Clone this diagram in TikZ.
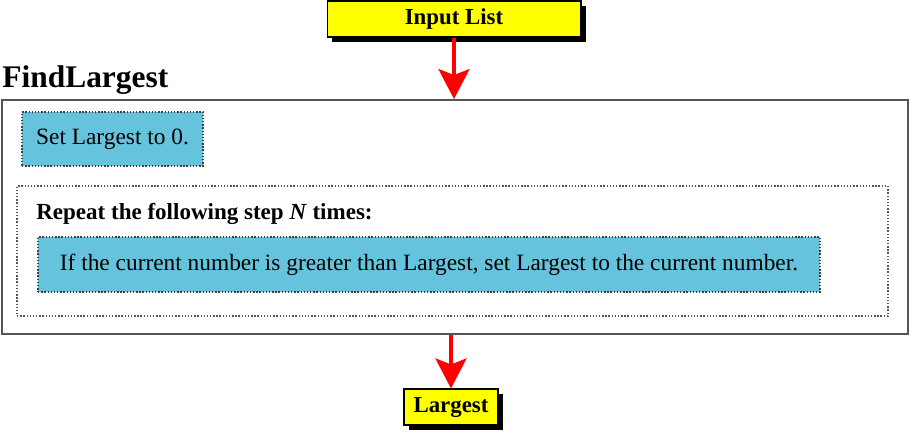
\documentclass[tikz,border=0pt]{standalone}
\usepackage{fontspec}
\setmainfont{Liberation Serif}
\usepackage{tikz}
\usetikzlibrary{positioning,arrows.meta,shadows}
\definecolor{camarillo}{HTML}{FFFF00}
\definecolor{ccian}{HTML}{66C3DD}
\definecolor{crojo}{HTML}{FF0000}
\definecolor{cgris}{HTML}{555555}
\tikzset{
  entrada/.style={rectangle, draw=black, line width=0.6pt, fill=camarillo,
    inner sep=0pt, text height=1.6ex, text depth=0.2ex,
    font=\bfseries\fontsize{13}{15}\selectfont,
    drop shadow={shadow xshift=0.1cm, shadow yshift=-0.1cm, opacity=1, fill=black}},
  paso/.style={rectangle, draw=black!75, densely dotted, line width=0.8pt,
    fill=ccian, inner sep=0pt, font=\fontsize{13.3}{16}\selectfont},
  bucle/.style={rectangle, draw=cgris, densely dotted, line width=0.8pt, inner sep=0pt},
  marco/.style={rectangle, draw=cgris, line width=1.1pt, inner sep=0pt},
  flecha/.style={-{Stealth[length=0.6cm, width=0.62cm, inset=0.12cm]}, line width=1.8pt, draw=crojo},
  titulo/.style={font=\bfseries\fontsize{17.9}{21}\selectfont, inner sep=0pt},
  etq/.style={font=\bfseries\fontsize{13.1}{16}\selectfont, inner sep=0pt},
}
\begin{document}
\begin{tikzpicture}[x=0.02cm, y=-0.02cm]
  \useasboundingbox (0,0) rectangle (910,433);
  \node[entrada, minimum width=5.08cm, minimum height=0.72cm] (input) at (454,19) {Input List};
  \node[titulo, anchor=base west] (nombre) at (2,87) {FindLargest};
  \node[marco, minimum width=18.12cm, minimum height=4.68cm] (find) at (455,217) {};
  \node[paso, minimum width=3.62cm, minimum height=1.08cm] (init) at (112.5,139) {Set Largest to 0.};
  \node[bucle, minimum width=17.42cm, minimum height=2.6cm] (loop) at (452.5,251) {};
  \node[etq, anchor=base west] (repeat) at (36,219) {Repeat the following step \textit{N} times:};
  \node[paso, minimum width=15.64cm, minimum height=1.1cm] (regla) at (429,264.5)
    {If the current number is greater than Largest, set Largest to the current number.};
  \node[entrada, minimum width=1.88cm, minimum height=0.72cm] (largest) at (451,407) {Largest};
  \draw[flecha] (input) -- (input |- find.north);
  \draw[flecha] (find.south -| largest) -- (largest);
\end{tikzpicture}
\end{document}
